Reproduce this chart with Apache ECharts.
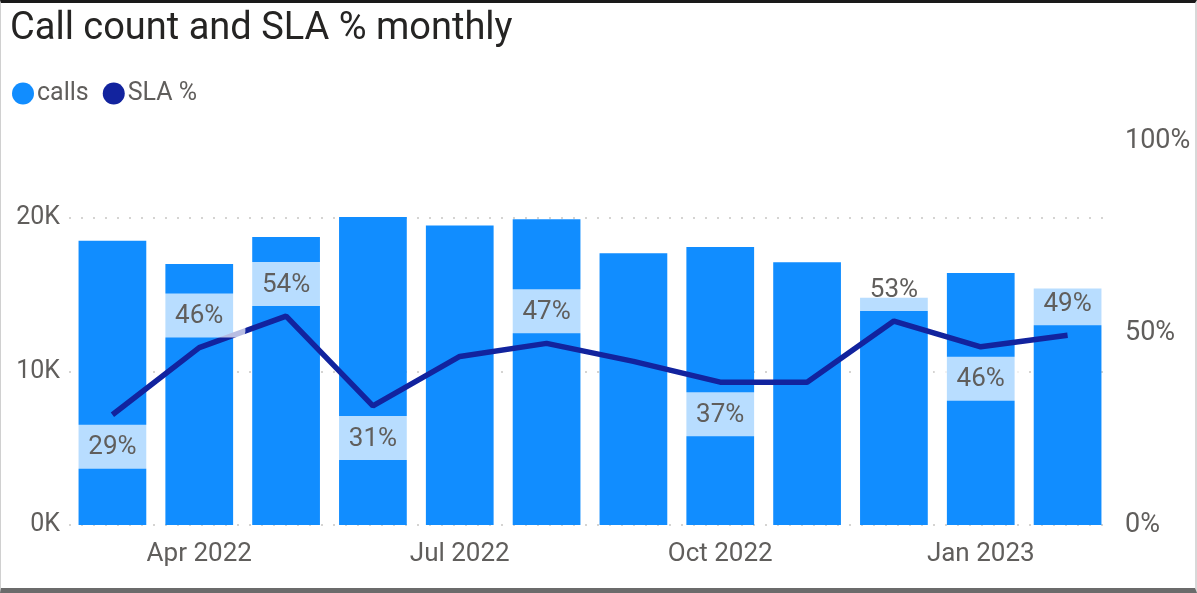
<!DOCTYPE html>
<html>
<head>
<meta charset="utf-8">
<script src="https://cdn.jsdelivr.net/npm/echarts@6/dist/echarts.min.js"></script>
<style>
    html, body { margin: 0; padding: 0; background: #fff; }
    #frame {
        box-sizing: border-box;
        width: 1197px; height: 593px;
        border-top: 3px solid #1a1a1a;
        border-left: 1px solid #d0d0d0;
        border-right: 2px solid #d8d8d8;
        border-bottom: 5px solid #6b6b6b;
    }
    #chart { width: 1194px; height: 585px; }
</style>
</head>
<body>
<div id="frame"><div id="chart"></div></div>
<script type="text/javascript">
    // months on the x axis
    var months = ['Mar 2022', 'Apr 2022', 'May 2022', 'Jun 2022', 'Jul 2022', 'Aug 2022',
                  'Sep 2022', 'Oct 2022', 'Nov 2022', 'Dec 2022', 'Jan 2023', 'Feb 2023'];
    // call count per month
    var calls = [18500, 17000, 18750, 20050, 19500, 19900, 17700, 18100, 17100, 14800, 16400, 15400];
    // SLA % per month
    var sla = [28.7, 46.2, 54.4, 31.0, 43.9, 47.3, 42.6, 37.2, 37.2, 53.1, 46.4, 49.4];
    // where each SLA label goes ('' = hidden)
    var slaLabelPos = ['bottom', 'top', 'top', 'bottom', '', 'top', '', 'bottom', '', 'top', 'bottom', 'top'];
    var callTicks = [0, 10000, 20000];
    var slaTicks = [0, 50, 100];

    var grey = '#605E5C';
    var font = 'Roboto';

    var slaData = sla.map(function (v, i) {
        var p = slaLabelPos[i];
        return {
            value: v,
            label: p ? { show: true, position: p } : { show: false }
        };
    });

    var myChart = echarts.init(document.getElementById('chart'));

    var option = {
        animation: false,
        title: {
            text: 'Call count and SLA % monthly',
            left: 4,
            top: 2,
            textStyle: { fontFamily: font, fontSize: 38, fontWeight: 'normal', color: '#252423' }
        },
        legend: {
            left: 6,
            top: 73,
            itemGap: 14,
            itemWidth: 22,
            itemHeight: 22,
            icon: 'circle',
            textStyle: { fontFamily: font, fontSize: 25, color: grey, padding: [0, 0, 0, -2] },
            data: ['calls', 'SLA %']
        },
        grid: { left: 68, right: 84, top: 138, bottom: 63, containLabel: false },
        xAxis: {
            type: 'category',
            data: months,
            axisLine: { show: false },
            axisTick: { show: false },
            axisLabel: {
                interval: function (idx) { return idx % 3 === 1; },
                fontFamily: font, fontSize: 26, color: grey, margin: 16
            }
        },
        yAxis: [
            {
                type: 'value',
                min: callTicks[0],
                max: 25000,
                interval: callTicks[1] - callTicks[0],
                axisLine: { show: false },
                axisTick: { show: false },
                axisLabel: {
                    fontFamily: font, fontSize: 25, color: grey, margin: 9,
                    showMaxLabel: false,
                    formatter: function (v) {
                        return callTicks.indexOf(v) >= 0 ? (v / 1000) + 'K' : '';
                    }
                },
                splitLine: {
                    lineStyle: { color: ['#c8c6c4', '#c8c6c4', '#c8c6c4', 'rgba(0,0,0,0)'], type: [2, 10], width: 1.5 }
                }
            },
            {
                type: 'value',
                min: slaTicks[0],
                max: slaTicks[2],
                interval: slaTicks[1] - slaTicks[0],
                position: 'right',
                axisLine: { show: false },
                axisTick: { show: false },
                splitLine: { show: false },
                axisLabel: {
                    fontFamily: font, fontSize: 27, color: grey, margin: 14,
                    formatter: '{value}%'
                }
            }
        ],
        series: [
            {
                name: 'calls',
                type: 'bar',
                data: calls,
                barCategoryGap: '22%',
                itemStyle: { color: '#118DFF' }
            },
            {
                name: 'SLA %',
                type: 'line',
                yAxisIndex: 1,
                data: slaData,
                symbol: 'circle',
                symbolSize: 0.1,
                showSymbol: true,
                z: 5,
                lineStyle: { color: '#12239E', width: 5.5 },
                itemStyle: { color: '#12239E' },
                label: {
                    distance: 10,
                    formatter: function (p) { return Math.round(p.value) + '%'; },
                    fontFamily: font,
                    fontSize: 26,
                    color: grey,
                    backgroundColor: 'rgba(255,255,255,0.7)',
                    padding: [10, 22, 8, 22],
                    borderRadius: 6
                }
            }
        ]
    };
    myChart.setOption(option);
</script>
</body>
</html>
